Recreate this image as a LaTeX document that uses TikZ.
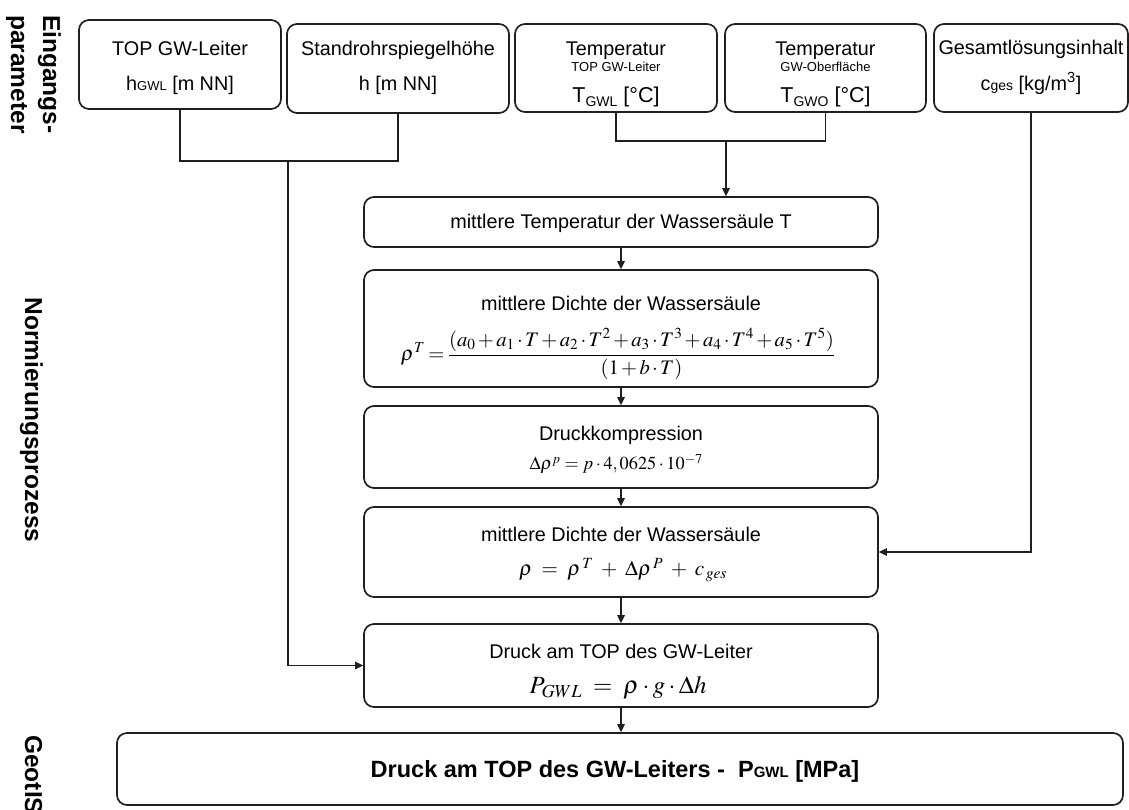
\documentclass[tikz,border=0pt]{standalone}
\usepackage{mathptmx}
\usepackage[no-math]{fontspec}
\setmainfont{Liberation Sans}
\usepackage{graphicx}
\usetikzlibrary{arrows.meta}
\newcommand\fsz[1]{\fontsize{#1}{#1}\selectfont}
\tikzset{
  box/.style={draw=black!88, line width=1.7pt, rounded corners=10pt, inner sep=0pt},
  txt/.style={anchor=base, inner sep=0pt, font=\fsz{19.8}},
  small/.style={anchor=base, inner sep=0pt, font=\fsz{13}},
  frm/.style={anchor=center, inner sep=0pt, font=\fsz{20}},
  conn/.style={draw=black!88, line width=1.2pt},
  arr/.style={conn, -{Triangle[length=8pt,width=7.5pt]}},
  side/.style={inner sep=0pt, rotate=-90, font={\fontsize{24.5}{32}\selectfont\bfseries}}
}
\begin{document}
\begin{tikzpicture}[x=1pt,y=-1pt]
\useasboundingbox (0,0) rectangle (1129,809);
\clip (0,0) rectangle (1129,809);

% side labels
\node[side, anchor=north west, align=left] (sl1) at (61,15) {Eingangs-\\parameter};
\node[side, anchor=base] (sl2) at (25,420) {Normierungsprozess};
\node[side, anchor=base west] (sl3) at (25,735) {GeotIS};

% top input boxes
\node[box, minimum width=202pt, minimum height=89pt] (b1) at (180,64.5) {};
\node[box, minimum width=222pt, minimum height=89pt] (b2) at (398,68.5) {};
\node[box, minimum width=202pt, minimum height=88pt] (b3) at (616,68) {};
\node[box, minimum width=201pt, minimum height=88pt] (b4) at (825.5,68) {};
\node[box, minimum width=194pt, minimum height=88pt] (b5) at (1031,68) {};

\node[txt] (b1a) at (180,55) {TOP GW-Leiter};
\node[txt] (b1b) at (180,90) {h{\fsz{13}GWL} [m NN]};
\node[txt] (b2a) at (398,55) {Standrohrspiegelhöhe};
\node[txt] (b2b) at (398,90) {h [m NN]};
\node[txt] (b3a) at (616,55) {Temperatur};
\node[small] (b3b) at (616,71) {TOP GW-Leiter};
\node[txt, font=\fsz{21.5}] (b3c) at (616,102) {T\raisebox{-4pt}{\fsz{14}GWL} [°C]};
\node[txt] (b4a) at (825.5,55) {Temperatur};
\node[small] (b4b) at (825.5,71) {GW-Oberfläche};
\node[txt, font=\fsz{21.5}] (b4c) at (825.5,102) {T\raisebox{-4pt}{\fsz{14}GWO} [°C]};
\node[txt] (b5a) at (1031,54) {Gesamtlösungsinhalt};
\node[txt] (b5b) at (1031,90) {c{\fsz{14}ges} [kg/m\textsuperscript{3}]};

% process boxes
\node[box, minimum width=514pt, minimum height=50pt] (tb) at (621,222) {};
\node[txt] (tbt) at (621,228) {mittlere Temperatur der Wassersäule T};

\node[box, minimum width=514pt, minimum height=117pt] (d1) at (621,328.5) {};
\node[txt] (d1t) at (621,310) {mittlere Dichte der Wassersäule};
\node[frm] (d1f) at (618,354) {\resizebox{434pt}{!}{$\medmuskip=2mu\thickmuskip=3mu
  \rho^{T}={\displaystyle\frac{(a_0+a_1\cdot T+a_2\cdot T^{2}+a_3\cdot T^{3}+a_4\cdot T^{4}+a_5\cdot T^{5})}{(1+b\cdot T)}}$}};

\node[box, minimum width=514pt, minimum height=82pt] (dk) at (621,447) {};
\node[txt] (dkt) at (621,440) {Druckkompression};
\node[frm] (dkf) at (616,464) {\resizebox{173pt}{!}{$\Delta\rho^{p}=p\cdot 4,0625\cdot 10^{-7}$}};

\node[box, minimum width=514pt, minimum height=90pt] (d2) at (621,552) {};
\node[txt] (d2t) at (621,541) {mittlere Dichte der Wassersäule};
\node[frm] (d2f) at (623,570) {\resizebox{208pt}{!}{$\rho\;=\;\rho^{\,T}\;+\;\Delta\rho^{\,P}\;+\;c_{\,ges}$}};

\node[box, minimum width=514pt, minimum height=83pt] (dr) at (621,665.5) {};
\node[txt] (drt) at (621,658) {Druck am TOP des GW-Leiter};
\node[frm] (drf) at (618,688) {\resizebox{177pt}{!}{$P_{GWL}\;=\;\rho\cdot g\cdot\Delta h$}};

\node[box, minimum width=1006pt, minimum height=72pt] (bot) at (620,769) {};
\node[txt, font={\fsz{23.5}\bfseries}] (bott) at (615,777) {Druck am TOP des GW-Leiters -\ \ P{\fsz{15}GWL} [MPa]};

% connectors
\coordinate (j1) at (288,161);
\draw[conn] (b1.south) |- (j1) -| (b2.south);
\draw[arr] (j1) |- (dr.west);

\coordinate (j2) at (726,141);
\draw[conn] (b3.south) |- (j2) -| (b4.south);
\draw[arr] (j2) -- (j2 |- tb.north);

\draw[arr] (b5.south) |- (d2.east);

\draw[arr] (tb.south) -- (d1.north);
\draw[arr] (d1.south) -- (dk.north);
\draw[arr] (dk.south) -- (d2.north);
\draw[arr] (d2.south) -- (dr.north);
\draw[arr] (dr.south) -- (dr.south |- bot.north);
\end{tikzpicture}
\end{document}
